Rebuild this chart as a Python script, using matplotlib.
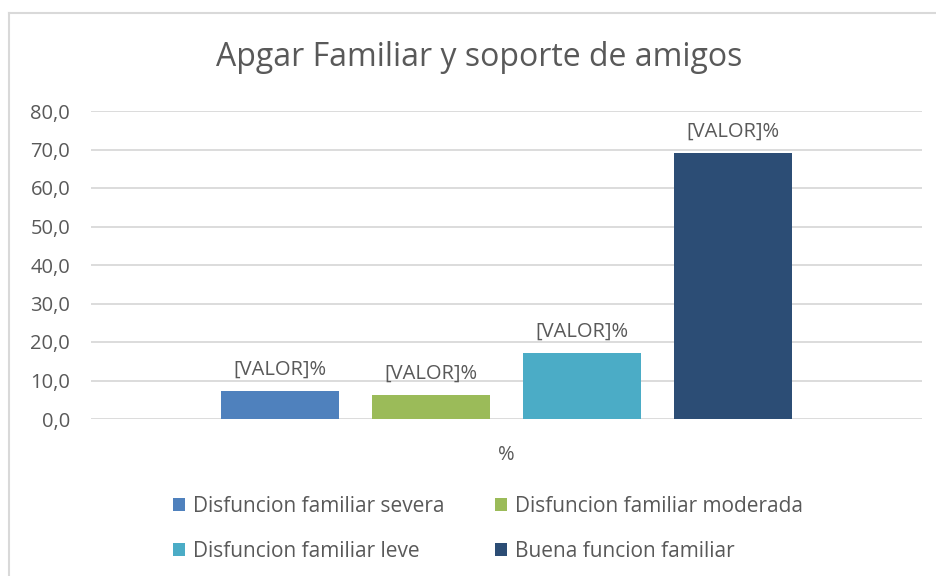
import matplotlib
matplotlib.use("Agg")
import matplotlib.pyplot as plt
from matplotlib.lines import Line2D
from matplotlib.ticker import FuncFormatter

plt.rcParams['font.family'] = ['Open Sans', 'DejaVu Sans']

categorias = ["Disfuncion familiar severa", "Disfuncion familiar moderada",
              "Disfuncion familiar leve", "Buena funcion familiar"]
valores = [7.3, 6.2, 17.1, 69.1]
colores = ["#4f81bd", "#9bbb59", "#4bacc6", "#2c4d75"]
etiqueta = "[VALOR]%"
eje_x = "%"
titulo = "Apgar Familiar y soporte de amigos"

gris = "#595959"

fig = plt.figure(figsize=(9.36, 5.76), dpi=100)
ax = fig.add_axes([91/936, 1 - 419/576, 831/936, 308/576])

ancho = 0.143
paso = 0.1817
barras = []
for i, (cat, v, c) in enumerate(zip(categorias, valores, colores)):
    x = (i - 1.5) * paso
    b = ax.bar(x, v, width=ancho, color=c, label=cat, zorder=3)
    barras.append(b)
    ax.annotate(etiqueta, (x, v), xytext=(0, 8), textcoords="offset points",
                ha="center", va="bottom", fontsize=14.5, color=gris)

ax.set_xlim(-0.5, 0.5)
ax.set_ylim(0, 80)
ax.set_yticks(range(0, 81, 10))
ax.yaxis.set_major_formatter(FuncFormatter(lambda v, p: f"{v:.1f}".replace(".", ",")))
ax.set_xticks([0])
ax.set_xticklabels([eje_x])
ax.tick_params(axis="both", length=0, labelsize=14.5, colors=gris)
ax.tick_params(axis="y", pad=15)
ax.tick_params(axis="x", pad=19)
ax.grid(axis="y", color="#d9d9d9", linewidth=1.3, zorder=0)
for s in ax.spines.values():
    s.set_visible(False)

fig.text(479/936, 1 - 57/576, titulo, ha="center", va="center", fontsize=23, color=gris)

# borde del grafico
fig.add_artist(Line2D([9/936, 9/936], [0, 1 - 13/576], color="#d9d9d9", linewidth=1.5))
fig.add_artist(Line2D([9/936, 1], [1 - 13/576, 1 - 13/576], color="#d9d9d9", linewidth=1.5))

# leyenda por filas como en excel
orden = [0, 2, 1, 3]
fig.legend([barras[k] for k in orden], [categorias[k] for k in orden],
           loc="upper left", bbox_to_anchor=(154/936, 1 - 477/576), ncol=2, frameon=False,
           fontsize=15, labelcolor=gris, handlelength=0.58, handleheight=0.58,
           handletextpad=0.4, columnspacing=2.4, labelspacing=1.15)

fig.savefig("out.png", dpi=100)
